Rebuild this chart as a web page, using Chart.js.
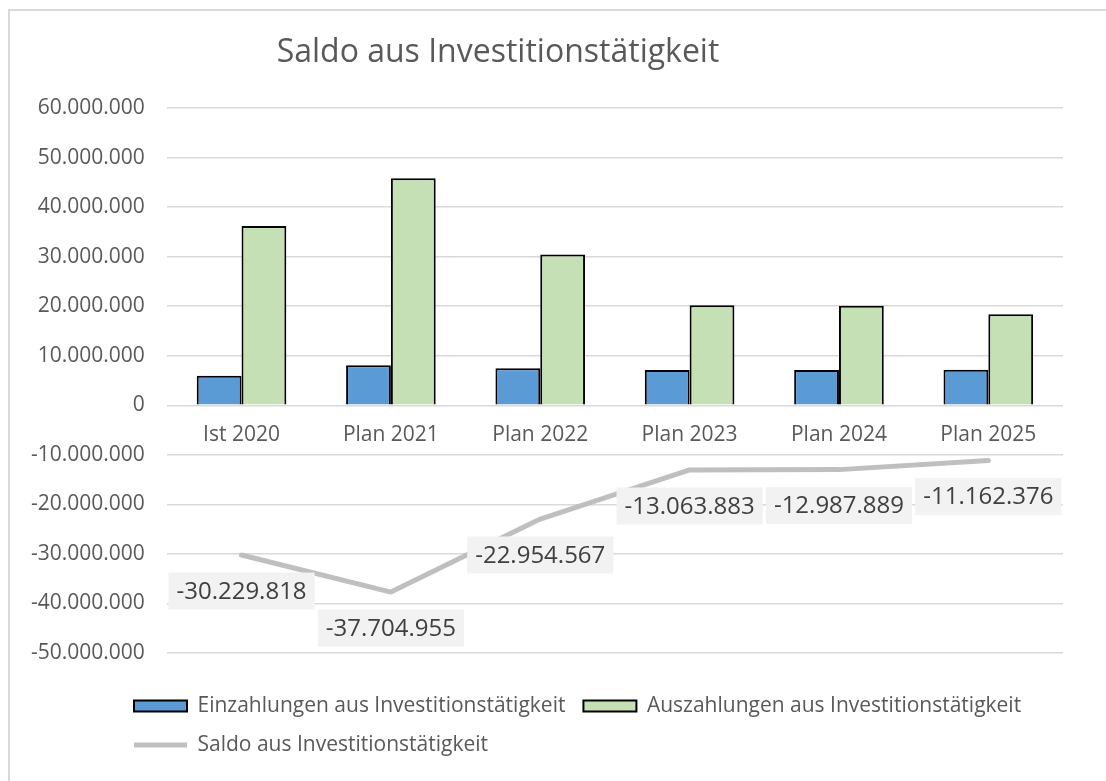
<!DOCTYPE html>
<html>
<head>
<meta charset="utf-8">
<script src="https://cdn.jsdelivr.net/npm/chart.js@4/dist/chart.umd.min.js"></script>
<style>
  body { margin: 0; background: #fff; }
  #wrap { position: relative; width: 1106px; height: 781px; overflow: hidden; }
  #frame { position: absolute; left: 8px; top: 9px; width: 1200px; height: 900px;
           border-left: 2px solid #d9d9d9; border-top: 2px solid #d9d9d9; }
  #chart { position: absolute; left: 0; top: 0; }
</style>
</head>
<body>
<div id="wrap">
  <div id="frame"></div>
  <canvas id="chart" width="1106" height="781"></canvas>
</div>
<script>
const titleText = 'Saldo aus Investitionstätigkeit';
const categories = ['Ist 2020', 'Plan 2021', 'Plan 2022', 'Plan 2023', 'Plan 2024', 'Plan 2025'];
const einzahlungen = [5970000, 8100000, 7460000, 7130000, 7120000, 7190000];
const auszahlungen = [36200000, 45800000, 30410000, 20190000, 20110000, 18350000];
const saldo = [-30229818, -37704955, -22954567, -13063883, -12987889, -11162376];
const yMin = -50000000;
const yMax = 60000000;
const yStep = 10000000;

const FONT = "'Open Sans', sans-serif";

// 1234567 -> 1.234.567
function fmt(v) {
  const s = Math.abs(Math.round(v)).toString().replace(/\B(?=(\d{3})+(?!\d))/g, '.');
  return (v < 0 ? '-' : '') + s;
}

// title sits left of centre like in the Excel chart
const titlePlugin = {
  id: 'excelTitle',
  afterDraw(chart) {
    const ctx = chart.ctx;
    ctx.save();
    ctx.font = '32px ' + FONT;
    ctx.fillStyle = '#595959';
    ctx.textAlign = 'center';
    ctx.textBaseline = 'middle';
    ctx.fillText(titleText, 498, 53);
    ctx.restore();
  }
};

// grey boxed value labels under the saldo line
const saldoLabels = {
  id: 'saldoLabels',
  afterDatasetsDraw(chart) {
    const ctx = chart.ctx;
    const meta = chart.getDatasetMeta(2);
    ctx.save();
    ctx.font = '24px ' + FONT;
    ctx.textAlign = 'center';
    ctx.textBaseline = 'middle';
    meta.data.forEach((pt, i) => {
      const txt = fmt(saldo[i]);
      const w = ctx.measureText(txt).width + 16;
      const h = 37;
      const cy = pt.y + 36;
      ctx.fillStyle = '#f2f2f2';
      ctx.fillRect(pt.x - w / 2, cy - h / 2, w, h);
      ctx.fillStyle = '#404040';
      ctx.fillText(txt, pt.x, cy + 1);
    });
    ctx.restore();
  }
};

// move the legend so rows start under the plot like Excel does
const legendShift = {
  id: 'legendShift',
  afterLayout(chart) {
    const lg = chart.legend;
    const pad = lg.options.labels.padding;
    const w = lg.right - lg.left;
    lg.left = 134 - pad;
    lg.right = lg.left + w;
    const h = lg.bottom - lg.top;
    lg.top = 706 - pad - 10.5;
    lg.bottom = lg.top + h;
  }
};

new Chart(document.getElementById('chart'), {
  type: 'bar',
  data: {
    labels: categories,
    datasets: [
      {
        label: 'Einzahlungen aus Investitionstätigkeit',
        data: einzahlungen,
        backgroundColor: '#5b9bd5',
        borderColor: '#000000',
        borderWidth: 2,
        pointStyle: 'rect',
        categoryPercentage: 0.6,
        barPercentage: 1.0
      },
      {
        label: 'Auszahlungen aus Investitionstätigkeit',
        data: auszahlungen,
        backgroundColor: '#c5e0b4',
        borderColor: '#000000',
        borderWidth: 2,
        pointStyle: 'rect',
        categoryPercentage: 0.6,
        barPercentage: 1.0
      },
      {
        type: 'line',
        label: 'Saldo aus Investitionstätigkeit',
        data: saldo,
        borderColor: '#bfbfbf',
        backgroundColor: '#bfbfbf',
        borderWidth: 5,
        borderCapStyle: 'round',
        borderJoinStyle: 'round',
        pointRadius: 0,
        pointStyle: 'line',
        tension: 0
      }
    ]
  },
  options: {
    responsive: false,
    animation: false,
    layout: { padding: { left: 9, right: 43, top: 108, bottom: 40 } },
    scales: {
      x: {
        position: { y: 0 },
        grid: { display: false, drawTicks: false },
        border: { display: false },
        ticks: { color: '#595959', font: { family: FONT, size: 21 }, padding: 17 }
      },
      y: {
        min: yMin,
        max: yMax,
        grid: { color: '#d9d9d9', lineWidth: 1.5, drawTicks: false },
        border: { display: false },
        ticks: {
          stepSize: yStep,
          color: '#595959',
          font: { family: FONT, size: 21 },
          padding: 22,
          callback: v => fmt(v)
        }
      }
    },
    plugins: {
      title: { display: false },
      tooltip: { enabled: false },
      legend: {
        position: 'bottom',
        align: 'start',
        labels: {
          usePointStyle: true,
          pointStyleWidth: 53,
          boxHeight: 11,
          padding: 18,
          color: '#595959',
          font: { family: FONT, size: 21 }
        }
      }
    }
  },
  plugins: [titlePlugin, saldoLabels, legendShift]
});
</script>
</body>
</html>
